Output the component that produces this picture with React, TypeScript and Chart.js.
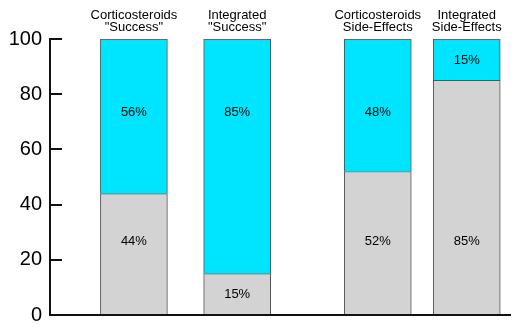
import React, { useEffect, useRef } from "react";
import { Chart, registerables } from "chart.js";

Chart.register(...registerables);

const categories: string[][] = [
  ["Corticosteroids", "\"Success\""],
  ["Integrated", "\"Success\""],
  ["Corticosteroids", "Side-Effects"],
  ["Integrated", "Side-Effects"],
];
// position of each bar along the (hidden) horizontal value axis, 0..100
const barSlots = [18.2, 40.6, 71.1, 90.4];
const grayValues = [44, 15, 52, 85];
const cyanValues = [56, 85, 48, 15];
const yTicks = [0, 20, 40, 60, 80, 100];
// preferred label heights (axis units) for the lower and upper segments
const labelAnchors = [26.8, 73.7];

const FONT = "'Liberation Sans', Arial, Helvetica, sans-serif";

const extrasPlugin = {
  id: "extras",
  afterDatasetsDraw(chart: any) {
    const { ctx, chartArea } = chart;
    const yScale = chart.scales.y;
    ctx.save();
    // bottom axis line
    ctx.strokeStyle = "#111";
    ctx.lineWidth = 2;
    ctx.beginPath();
    ctx.moveTo(chartArea.left, chartArea.bottom);
    ctx.lineTo(chartArea.right, chartArea.bottom);
    ctx.stroke();
    // y tick marks pointing inward
    yTicks.forEach((v) => {
      const y = Math.round(yScale.getPixelForValue(v));
      ctx.beginPath();
      ctx.moveTo(chartArea.left, y);
      ctx.lineTo(chartArea.left + 12, y);
      ctx.stroke();
    });
    // value labels
    ctx.fillStyle = "#000";
    ctx.font = `13px ${FONT}`;
    ctx.textAlign = "center";
    ctx.textBaseline = "middle";
    chart.data.datasets.forEach((ds: any, di: number) => {
      const meta = chart.getDatasetMeta(di);
      meta.data.forEach((el: any, i: number) => {
        const v = ds.data[i].y;
        const start = di === 0 ? 0 : grayValues[i];
        const end = start + v;
        const anchor = labelAnchors[di];
        const pos = anchor > start + 6 && anchor < end - 6 ? anchor : (start + end) / 2;
        ctx.fillText(`${v}%`, el.x, yScale.getPixelForValue(pos) + 0.5);
      });
    });
    ctx.restore();
  },
};

export default function App() {
  const ref = useRef<HTMLCanvasElement | null>(null);
  useEffect(() => {
    if (!ref.current) return;
    const chart = new Chart(ref.current, {
      type: "bar",
      data: {
        datasets: [
          {
            label: "gray",
            data: barSlots.map((x, i) => ({ x, y: grayValues[i] })),
            backgroundColor: "#d3d3d3",
            borderColor: "#555",
            borderWidth: 1,
            barThickness: 67,
          },
          {
            label: "cyan",
            data: barSlots.map((x, i) => ({ x, y: cyanValues[i] })),
            backgroundColor: "#00e5ff",
            borderColor: "#555",
            borderWidth: 1,
            barThickness: 67,
          },
        ],
      },
      options: {
        animation: false,
        responsive: false,
        layout: { padding: { left: 8, right: 11, top: 0, bottom: 17 } },
        plugins: {
          legend: { display: false },
          tooltip: { enabled: false },
        },
        scales: {
          x: {
            type: "linear",
            position: "top",
            stacked: true,
            offset: false,
            bounds: "ticks",
            min: 0,
            max: 100,
            grid: { display: false, offset: false },
            border: { display: false },
            afterBuildTicks: (scale: any) => {
              scale.ticks = barSlots.map((v) => ({ value: v }));
            },
            afterFit: (scale: any) => {
              scale.height = 39;
              scale.paddingLeft = 0;
              scale.paddingRight = 0;
            },
            ticks: {
              autoSkip: false,
              maxRotation: 0,
              minRotation: 0,
              padding: -3,
              color: "#000",
              font: { family: FONT, size: 13, lineHeight: 0.96 },
              callback: (_v: any, i: number) => categories[i],
            },
          },
          y: {
            stacked: true,
            min: 0,
            max: 100,
            grid: { display: false, drawTicks: false },
            border: { display: true, color: "#111", width: 2 },
            afterFit: (scale: any) => {
              scale.width = 42;
              scale.paddingTop = 0;
              scale.paddingBottom = 0;
            },
            ticks: {
              stepSize: 20,
              padding: 8,
              color: "#000",
              font: { family: FONT, size: 20 },
            },
          },
        },
      },
      plugins: [extrasPlugin],
    } as any);
    return () => chart.destroy();
  }, []);
  return (
    <div style={{ position: "absolute", left: 0, top: 0, width: 522, height: 332 }}>
      <canvas ref={ref} width={522} height={332} />
    </div>
  );
}
